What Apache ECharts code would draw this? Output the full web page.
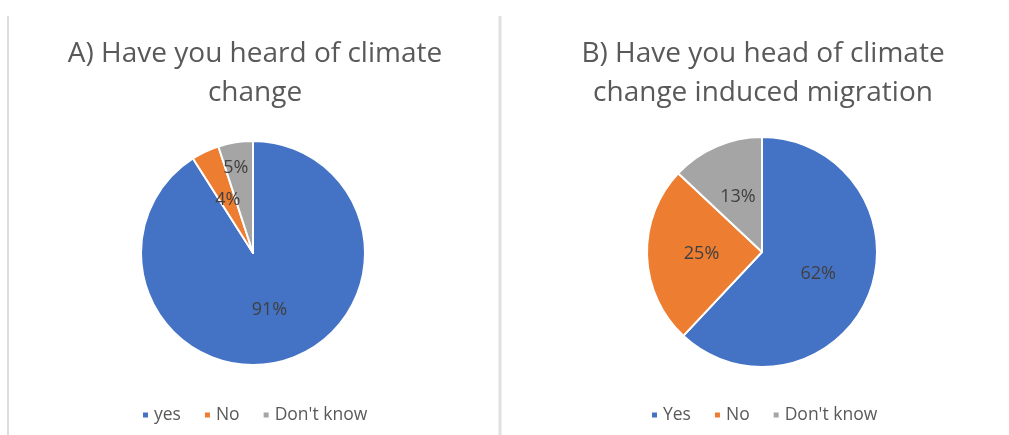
<!DOCTYPE html>
<html>
<head>
<meta charset="utf-8">
<title>Climate change awareness</title>
<script src="https://cdn.jsdelivr.net/npm/echarts@6/dist/echarts.min.js"></script>
<style>
  html, body { margin: 0; padding: 0; background: #ffffff; }
  #chart { width: 1009px; height: 435px; }
</style>
</head>
<body>
<div id="chart"></div>
<script>
// Survey answers, percent of respondents
const categoriesA = ['yes', 'No', "Don't know"];
const valuesA = [91, 4, 5];
const categoriesB = ['Yes', 'No', "Don't know"];
const valuesB = [62, 25, 13];

const titleA = 'A) Have you heard of climate\nchange';
const titleB = 'B) Have you head of climate\nchange induced migration';

const palette = ['#4472C4', '#ED7D31', '#A5A5A5'];
const FONT = '"Open Sans", "Noto Sans", sans-serif';

function buildData(names, values, labelOffsets) {
  return names.map((name, i) => {
    const item = { name: name, value: values[i] };
    if (labelOffsets && labelOffsets[i]) {
      item.label = { offset: labelOffsets[i] };
    }
    return item;
  });
}

function pieSeries(name, data, center, radius) {
  return {
    name: name,
    type: 'pie',
    center: center,
    radius: radius,
    startAngle: 90,
    clockwise: true,
    animation: false,
    silent: true,
    itemStyle: { borderColor: '#ffffff', borderWidth: 2 },
    label: {
      show: true,
      position: 'inside',
      formatter: '{c}%',
      color: '#404040',
      fontFamily: FONT,
      fontSize: 18
    },
    labelLine: { show: false },
    emphasis: { disabled: true },
    data: data
  };
}

const legendText = { color: '#595959', fontFamily: FONT, fontSize: 17.5 };

const titleStyle = { color: '#595959', fontFamily: FONT, fontSize: 28, fontWeight: 'normal', lineHeight: 39 };

const chart = echarts.init(document.getElementById('chart'), null, { renderer: 'canvas' });

chart.setOption({
  backgroundColor: '#ffffff',
  color: palette,
  animation: false,
  title: [
    { text: titleA, left: 250, top: 30, textAlign: 'center', textStyle: titleStyle },
    { text: titleB, left: 758, top: 30, textAlign: 'center', textStyle: titleStyle }
  ],
  legend: [
    {
      data: categoriesA,
      left: 136,
      top: 401,
      icon: 'rect',
      itemWidth: 7,
      itemHeight: 7,
      itemGap: 22,
      selectedMode: false,
      textStyle: legendText
    },
    {
      data: categoriesB,
      left: 645,
      top: 401,
      icon: 'rect',
      itemWidth: 7,
      itemHeight: 7,
      itemGap: 22,
      selectedMode: false,
      textStyle: legendText
    }
  ],
  graphic: [
    {
      type: 'line',
      shape: { x1: 8, y1: 16, x2: 8, y2: 435 },
      style: { stroke: '#dcdcdc', lineWidth: 2 },
      silent: true
    },
    {
      type: 'line',
      shape: { x1: 500, y1: 16, x2: 500, y2: 435 },
      style: { stroke: '#e0e0e0', lineWidth: 3 },
      silent: true
    }
  ],
  series: [
    // the small "Don't know" label sits further out so it clears the "No" label
    pieSeries('A', buildData(categoriesA, valuesA, [null, null, [-8, -27]]), [253, 253], 112),
    pieSeries('B', buildData(categoriesB, valuesB), [762, 252], 115)
  ]
});
</script>
</body>
</html>
